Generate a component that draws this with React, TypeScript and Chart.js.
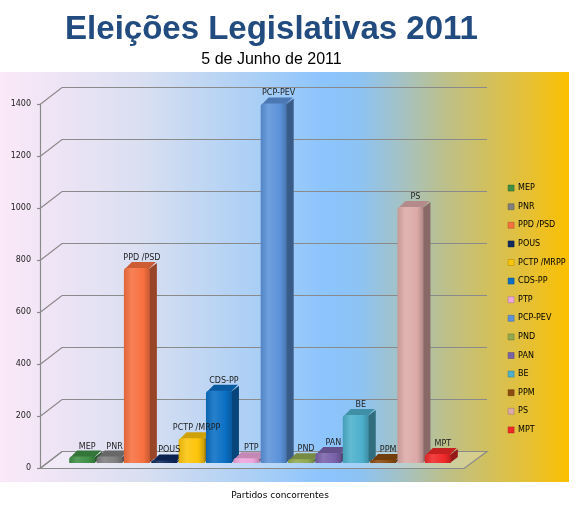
import React, { useEffect, useRef } from 'react';
import { Chart, registerables } from 'chart.js';

Chart.register(...registerables);

const parties = ['MEP', 'PNR', 'PPD /PSD', 'POUS', 'PCTP /MRPP', 'CDS-PP', 'PTP', 'PCP-PEV', 'PND', 'PAN', 'BE', 'PPM', 'PS', 'MPT'];
const votes = [25, 25, 750, 10, 95, 278, 18, 1383, 14, 38, 185, 12, 985, 35];
const partyColors = ['#3f8f45', '#7f7f7f', '#f7703f', '#102a60', '#fcc40a', '#0b6fc4', '#eea6dc', '#5b92da', '#92aa50', '#7a62aa', '#4db0cc', '#8c4c10', '#dcaaa8', '#f02828'];
const yTicks = [0, 200, 400, 600, 800, 1000, 1200, 1400];
const chartTitle = 'Eleições Legislativas 2011';
const chartSubtitle = '5 de Junho de 2011';
const xTitle = 'Partidos concorrentes';

// layout geometry (pixels)
const AXIS_X = 40;
const BACK_DX = 22;
const BACK_DY = 17;
const FLOOR_RIGHT = 464;
const BAR_DX = 7;
const BAR_DY = 6;

function shade(hex: string, f: number): string {
  const n = parseInt(hex.slice(1), 16);
  let r = (n >> 16) & 255, g = (n >> 8) & 255, b = n & 255;
  if (f < 1) {
    r *= f; g *= f; b *= f;
  } else {
    const t = f - 1;
    r += (255 - r) * t; g += (255 - g) * t; b += (255 - b) * t;
  }
  return `rgb(${Math.round(r)},${Math.round(g)},${Math.round(b)})`;
}

const layoutPlugin = {
  id: 'fixLayout',
  afterLayout(chart: any) {
    const set = (s: any, l: number, t: number, r: number, b: number) => {
      if (!s) return;
      s.left = l; s.top = t; s.right = r; s.bottom = b;
      s.width = r - l; s.height = b - t;
      s.configure();
    };
    set(chart.scales.x, 68.5, 463, 451.5, 463);
    set(chart.scales.y, AXIS_X, 99, AXIS_X, 463);
    set(chart.scales.yf, 0, 104, AXIS_X, 468);
    const lg = chart.legend;
    if (lg) {
      lg.left = 497.5; lg.right = 579; lg.width = 81.5;
      lg.top = 173.5; lg.bottom = 500; lg.height = 326.5;
    }
    chart.chartArea = { left: AXIS_X, top: 70, right: 495, bottom: 475, width: 455, height: 405 };
  },
};

const sceneryPlugin = {
  id: 'scenery',
  beforeDraw(chart: any) {
    const ctx = chart.ctx;
    const yf = chart.scales.yf;
    ctx.save();
    const grad = ctx.createLinearGradient(0, 0, 569, 0);
    grad.addColorStop(0, '#fbe8f8');
    grad.addColorStop(0.25, '#d9dff1');
    grad.addColorStop(0.45, '#aacff5');
    grad.addColorStop(0.57, '#8cc4fe');
    grad.addColorStop(0.63, '#8cc3f4');
    grad.addColorStop(0.7, '#a2c2c8');
    grad.addColorStop(0.78, '#bcc08c');
    grad.addColorStop(0.86, '#d2c05c');
    grad.addColorStop(0.93, '#e6c034');
    grad.addColorStop(1, '#fcc000');
    ctx.fillStyle = grad;
    ctx.fillRect(0, 72, 569, 410);

    const y0 = Math.round(yf.getPixelForValue(0)) + 0.5;
    ctx.strokeStyle = '#8a8a8a';
    ctx.lineWidth = 1.2;
    // floor
    ctx.beginPath();
    ctx.moveTo(AXIS_X, y0);
    ctx.lineTo(FLOOR_RIGHT, y0);
    ctx.lineTo(FLOOR_RIGHT + BACK_DX + 1, y0 - BACK_DY);
    ctx.lineTo(AXIS_X + BACK_DX, y0 - BACK_DY);
    ctx.closePath();
    ctx.fillStyle = 'rgba(255,255,255,0.22)';
    ctx.fill();
    ctx.stroke();
    // back wall grid + diagonals
    yTicks.forEach((v) => {
      const y = Math.round(yf.getPixelForValue(v)) + 0.5;
      ctx.beginPath();
      ctx.moveTo(AXIS_X, y);
      ctx.lineTo(AXIS_X + BACK_DX, y - BACK_DY);
      ctx.lineTo(FLOOR_RIGHT + BACK_DX + 1, y - BACK_DY);
      ctx.stroke();
      ctx.beginPath();
      ctx.moveTo(AXIS_X - 3, y);
      ctx.lineTo(AXIS_X, y);
      ctx.stroke();
    });
    // front vertical axis
    ctx.beginPath();
    ctx.moveTo(AXIS_X + 0.5, Math.round(yf.getPixelForValue(1400)));
    ctx.lineTo(AXIS_X + 0.5, y0);
    ctx.stroke();
    ctx.restore();
  },
  beforeDatasetsDraw(chart: any) {
    const meta = chart.getDatasetMeta(0);
    const ctx = chart.ctx;
    ctx.save();
    meta.data.forEach((el: any, i: number) => {
      const { x, y, base, width } = el.getProps(['x', 'y', 'base', 'width'], true);
      const l = x - width / 2;
      const r = x + width / 2;
      const c = partyColors[i];
      ctx.fillStyle = shade(c, 0.62);
      ctx.beginPath();
      ctx.moveTo(r - 1, y + 1);
      ctx.lineTo(r + BAR_DX, y - BAR_DY + 1);
      ctx.lineTo(r + BAR_DX, base - BAR_DY);
      ctx.lineTo(r - 1, base);
      ctx.closePath();
      ctx.fill();
      ctx.fillStyle = shade(c, 0.82);
      ctx.beginPath();
      ctx.moveTo(l + 1, y + 1);
      ctx.lineTo(l + BAR_DX + 1, y - BAR_DY);
      ctx.lineTo(r + BAR_DX - 1, y - BAR_DY);
      ctx.lineTo(r - 1, y + 1);
      ctx.closePath();
      ctx.fill();
    });
    ctx.restore();
  },
  afterDatasetsDraw(chart: any) {
    const meta = chart.getDatasetMeta(0);
    const ctx = chart.ctx;
    ctx.save();
    ctx.font = '8px "DejaVu Sans"';
    ctx.fillStyle = '#1e1e1e';
    ctx.textAlign = 'center';
    ctx.textBaseline = 'middle';
    meta.data.forEach((el: any, i: number) => {
      const { x, y } = el.getProps(['x', 'y'], true);
      ctx.fillText(parties[i], x + 5, y - 10);
    });
    ctx.restore();
  },
};

export default function App() {
  const ref = useRef<HTMLCanvasElement>(null);

  useEffect(() => {
    const canvas = ref.current;
    if (!canvas) return;
    const chart = new Chart(canvas, {
      type: 'bar',
      data: {
        labels: parties,
        datasets: [
          {
            label: 'Votos',
            data: votes,
            clip: false as any,
            backgroundColor: (c: any) => {
              const i = c.dataIndex;
              const col = partyColors[i] || '#888';
              const xs = c.chart.scales.x;
              if (!xs || i == null) return col;
              const cx = xs.getPixelForValue(i);
              const w = (xs.width / parties.length) * 0.95;
              const g = c.chart.ctx.createLinearGradient(cx - w / 2, 0, cx + w / 2, 0);
              g.addColorStop(0, shade(col, 0.9));
              g.addColorStop(0.3, shade(col, 1.12));
              g.addColorStop(0.75, col);
              g.addColorStop(1, shade(col, 0.8));
              return g;
            },
            borderWidth: 0,
            borderRadius: { topLeft: 3, topRight: 3, bottomLeft: 0, bottomRight: 0 },
            borderSkipped: 'bottom',
            barPercentage: 0.95,
            categoryPercentage: 1,
          },
        ],
      },
      options: {
        responsive: false,
        animation: false,
        events: [],
        layout: { padding: 0 },
        scales: {
          x: { type: 'category', display: false, offset: true },
          y: { type: 'linear', display: false, min: 0, max: 1400 },
          yf: {
            type: 'linear',
            position: 'left',
            min: 0,
            max: 1400,
            afterBuildTicks: (s: any) => {
              s.ticks = yTicks.map((v) => ({ value: v }));
            },
            grid: { display: false, drawTicks: false },
            border: { display: false },
            ticks: {
              padding: 9,
              color: '#1e1e1e',
              font: { family: 'DejaVu Sans', size: 8 },
              callback: (v: any) => String(v),
            },
          },
        },
        plugins: {
          tooltip: { enabled: false },
          title: { display: false },
          legend: {
            display: true,
            position: 'right',
            align: 'start',
            labels: {
              boxWidth: 6,
              boxHeight: 6,
              padding: 10.6,
              color: '#333333',
              font: { family: 'DejaVu Sans', size: 8 },
              generateLabels: () =>
                parties.map((p, i) => ({
                  text: p,
                  fillStyle: partyColors[i],
                  strokeStyle: shade(partyColors[i], 0.7),
                  lineWidth: 0.5,
                  hidden: false,
                  index: i,
                  datasetIndex: 0,
                })),
            },
          },
        },
      },
      plugins: [layoutPlugin, sceneryPlugin],
    } as any);
    return () => chart.destroy();
  }, []);

  return (
    <div style={{ position: 'absolute', left: 0, top: 0, width: 579, height: 506, background: '#ffffff' }}>
      <canvas ref={ref} width={579} height={506} style={{ position: 'absolute', left: 0, top: 0, width: 579, height: 506 }} />
      <div
        style={{
          position: 'absolute', left: 0, top: 11, width: 543, textAlign: 'center',
          fontFamily: '"Liberation Sans", Arial, sans-serif', fontWeight: 'bold', fontSize: 33, lineHeight: '33px',
          color: '#224b7f', whiteSpace: 'nowrap',
        }}
      >
        {chartTitle}
      </div>
      <div
        style={{
          position: 'absolute', left: 0, top: 51, width: 543, textAlign: 'center',
          fontFamily: '"Liberation Sans", Arial, sans-serif', fontSize: 16, lineHeight: '16px',
          color: '#000000', whiteSpace: 'nowrap',
        }}
      >
        {chartSubtitle}
      </div>
      <div
        style={{
          position: 'absolute', left: 0, top: 491, width: 560, textAlign: 'center',
          fontFamily: '"DejaVu Sans", sans-serif', fontSize: 9, lineHeight: '9px',
          color: '#000000', whiteSpace: 'nowrap',
        }}
      >
        {xTitle}
      </div>
    </div>
  );
}
